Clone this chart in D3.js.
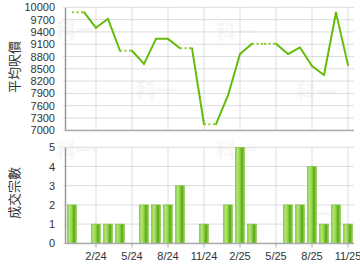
<!DOCTYPE html>
<html>
<head>
<meta charset="utf-8">
<script src="https://cdn.jsdelivr.net/npm/d3@7"></script>
<style>
  body { margin: 0; background: #fff; }
  svg { display: block; }
  text { font-family: "Liberation Sans", Arial, sans-serif; }
</style>
</head>
<body>
<div id="chart"></div>
<script>
// months from 12/23 to 11/25
var months = ["12/23","1/24","2/24","3/24","4/24","5/24","6/24","7/24","8/24","9/24","10/24","11/24",
              "12/24","1/25","2/25","3/25","4/25","5/25","6/25","7/25","8/25","9/25","10/25","11/25"];
// average price per sq ft (null = no deal that month)
var prices = [9880, null, 9500, 9720, 8940, null, 8620, 9230, 9230, 9000, null, 7150,
              null, 7850, 8860, 9110, null, null, 8860, 9020, 8570, 8350, 9870, 8590];
// number of deals
var deals = [2, 0, 1, 1, 1, 0, 2, 2, 2, 3, 0, 1, 0, 2, 5, 1, 0, 0, 2, 2, 4, 1, 2, 1];
var tickMonths = ["2/24","5/24","8/24","11/24","2/25","5/25","8/25","11/25"];
var priceTicks = [7000,7300,7600,7900,8200,8500,8800,9100,9400,9700,10000];
var dealTicks = [0,1,2,3,4,5];

var w = 360, h = 270;
var left = 65, right = 354;

var svg = d3.select("#chart").append("svg")
    .attr("width", w).attr("height", h);

var defs = svg.append("defs");
var grad = defs.append("linearGradient").attr("id", "barGrad")
    .attr("x1", "0%").attr("x2", "100%").attr("y1", "0%").attr("y2", "0%");
grad.append("stop").attr("offset", "0%").attr("stop-color", "#78c02c");
grad.append("stop").attr("offset", "20%").attr("stop-color", "#b8e680");
grad.append("stop").attr("offset", "50%").attr("stop-color", "#8fd04a");
grad.append("stop").attr("offset", "72%").attr("stop-color", "#5aa812");
grad.append("stop").attr("offset", "100%").attr("stop-color", "#9ad85a");

var x = d3.scaleBand().domain(months).range([66, 354]).paddingInner(0.25).paddingOuter(0.125);
var xc = function(m) { return x(m) + x.bandwidth() / 2; };

var yP = d3.scaleLinear().domain([7000, 10000]).range([130.3, 7.3]);
var yD = d3.scaleLinear().domain([0, 5]).range([243.3, 147.3]);

// watermarks
var marks = [[76,38],[156,98],[236,40],[316,100],[76,158],[156,222],[236,158],[316,222]];
svg.selectAll("text.wm").data(marks).enter().append("text")
    .attr("class", "wm")
    .attr("x", function(d){ return d[0]; })
    .attr("y", function(d){ return d[1]; })
    .attr("text-anchor", "middle")
    .style("font-family", "'Noto Sans CJK TC', sans-serif")
    .style("font-size", "20px")
    .style("font-weight", "bold")
    .attr("fill", "#f6f6f6")
    .text("科一");

function grid(g, yScale, ticks, y0, y1) {
    g.selectAll("line.h").data(ticks).enter().append("line")
        .attr("class", "h")
        .attr("x1", left - 2).attr("x2", right)
        .attr("y1", function(d){ return yScale(d); })
        .attr("y2", function(d){ return yScale(d); })
        .attr("stroke", "#dcdcdc").attr("stroke-width", 1);
    g.selectAll("line.v").data(tickMonths).enter().append("line")
        .attr("class", "v")
        .attr("x1", xc).attr("x2", xc)
        .attr("y1", y0).attr("y2", y1)
        .attr("stroke", "#dcdcdc").attr("stroke-width", 1);
}

// price panel
var topG = svg.append("g");
grid(topG, yP, priceTicks, 7.3, 130.3);
topG.append("g")
    .attr("transform", "translate(" + left + ",0)")
    .call(d3.axisLeft(yP).tickValues(priceTicks).tickFormat(d3.format("d")).tickSize(0).tickPadding(10))
    .call(function(g){
        g.select(".domain").attr("stroke", "#999").attr("stroke-width", 1.5);
        g.selectAll("text").attr("fill", "#333").style("font-size", "11px");
    });
topG.append("line")
    .attr("x1", left).attr("x2", right).attr("y1", 130.5).attr("y2", 130.5)
    .attr("stroke", "#aaa").attr("stroke-width", 1.5);

// build segments, carrying last value over months without deals
var pts = [], last = null;
prices.forEach(function(p, i){
    if (p !== null) last = p;
    pts.push({m: months[i], v: last, missing: p === null});
});
var segs = [];
for (var i = 1; i < pts.length; i++) {
    segs.push({a: pts[i-1], b: pts[i], dotted: pts[i].missing});
}
topG.selectAll("line.seg").data(segs).enter().append("line")
    .attr("class", "seg")
    .attr("x1", function(d){ return xc(d.a.m); })
    .attr("y1", function(d){ return yP(d.a.v); })
    .attr("x2", function(d){ return xc(d.b.m); })
    .attr("y2", function(d){ return yP(d.b.v); })
    .attr("stroke", function(d){ return d.dotted ? "#86d420" : "#66bb0a"; })
    .attr("stroke-width", 2)
    .attr("stroke-dasharray", function(d){ return d.dotted ? "2,2.5" : null; })
    .attr("stroke-linecap", function(d){ return d.dotted ? "butt" : "round"; });

topG.append("text")
    .attr("transform", "translate(19,67) rotate(-90)")
    .attr("text-anchor", "middle")
    .style("font-family", "'Noto Sans CJK TC', sans-serif")
    .style("font-size", "13px")
    .attr("fill", "#333")
    .text("平均呎價");

// deals panel
var botG = svg.append("g");
grid(botG, yD, dealTicks, 147.3, 243.3);
botG.append("g")
    .attr("transform", "translate(" + left + ",0)")
    .call(d3.axisLeft(yD).tickValues(dealTicks).tickFormat(d3.format("d")).tickSize(0).tickPadding(10))
    .call(function(g){
        g.select(".domain").attr("stroke", "#999").attr("stroke-width", 1.5);
        g.selectAll("text").attr("fill", "#333").style("font-size", "11px");
    });

botG.selectAll("rect").data(deals).enter().append("rect")
    .attr("x", function(d, i){ return x(months[i]); })
    .attr("y", function(d){ return yD(d); })
    .attr("width", x.bandwidth())
    .attr("height", function(d){ return yD(0) - yD(d); })
    .attr("fill", "url(#barGrad)")
    .attr("stroke", "#7cc23a").attr("stroke-width", 0.6);

botG.append("g")
    .attr("transform", "translate(0,243.5)")
    .call(d3.axisBottom(x).tickValues(tickMonths).tickSize(4).tickPadding(5))
    .call(function(g){
        g.select(".domain").attr("stroke", "#aaa").attr("stroke-width", 1.5)
            .attr("d", "M" + left + ",0H" + right);
        g.selectAll("line").attr("stroke", "#aaa");
        g.selectAll("text").attr("fill", "#333").style("font-size", "11px");
    });

botG.append("text")
    .attr("transform", "translate(19,193) rotate(-90)")
    .attr("text-anchor", "middle")
    .style("font-family", "'Noto Sans CJK TC', sans-serif")
    .style("font-size", "13px")
    .attr("fill", "#333")
    .text("成交宗數");
</script>
</body>
</html>
